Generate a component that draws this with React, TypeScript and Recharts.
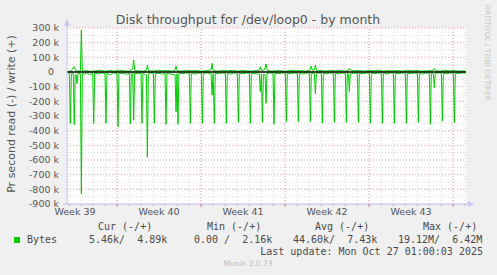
import React from 'react';
import { ComposedChart, Line, XAxis, YAxis, ReferenceLine, ReferenceArea } from 'recharts';

// time axis in days, 0 = midnight of the first full day shown
const X_MIN = -1 / 6;
const X_MAX = 33.08;

const weekCenters = [0.5, 7.5, 14.5, 21.5, 28.5];
const weekLabels = ['Week 39', 'Week 40', 'Week 41', 'Week 42', 'Week 43'];
const weekStarts = [4, 11, 18, 25, 32];

const yTicks = [300, 200, 100, 0, -100, -200, -300, -400, -500, -600, -700, -800, -900];
const yHalfTicks = [250, 150, 50, -50, -150, -250, -350, -450, -550, -650, -750, -850];

// read (bytes/s, k) - drawn below zero
const readT = [
  -0.1, 0.03, 0.11, 0.2, 0.36, 0.44, 0.52, 0.6, 0.67, 0.75, 0.95, 1.03, 1.11,
  1.3, 1.5, 1.7, 1.98, 2.06, 2.14,
  2.4, 2.7, 3.0, 3.08, 3.16,
  3.4, 3.7, 4.0, 4.08, 4.16,
  4.5, 4.8, 5.03, 5.11, 5.19, 5.31, 5.39, 5.47,
  5.7, 6.0, 6.08, 6.16, 6.3, 6.45, 6.53, 6.61,
  6.8, 7.03, 7.11, 7.19,
  7.5, 7.8, 8.0, 8.08, 8.16, 8.5, 8.84, 8.92, 9.0, 9.08, 9.16,
  9.5, 9.8, 10.03, 10.11, 10.19,
  10.5, 10.8, 11.03, 11.11, 11.19,
  11.5, 11.84, 11.92, 12.01, 12.11, 12.19,
  12.5, 12.8, 13.03, 13.11, 13.19,
  13.5, 13.8, 14.03, 14.11, 14.19,
  14.5, 14.8, 15.03, 15.11, 15.19,
  15.5, 15.86, 15.94, 16.03, 16.11, 16.2, 16.34, 16.42, 16.5,
  16.8, 17.0, 17.08, 17.16,
  17.5, 17.8, 18.03, 18.11, 18.19,
  18.5, 18.8, 19.03, 19.11, 19.19,
  19.5, 19.8, 20.03, 20.11, 20.19, 20.45, 20.53, 20.61,
  20.8, 21.03, 21.11, 21.19,
  21.5, 21.8, 22.03, 22.11, 22.19,
  22.5, 22.8, 23.03, 23.11, 23.19, 23.28, 23.36, 23.44,
  23.7, 24.03, 24.11, 24.19,
  24.5, 24.8, 25.03, 25.11, 25.19,
  25.5, 25.8, 26.03, 26.11, 26.19,
  26.5, 26.8, 27.03, 27.11, 27.19,
  27.5, 27.8, 28.03, 28.11, 28.19,
  28.5, 28.8, 29.03, 29.11, 29.19,
  29.5, 29.8, 30.03, 30.11, 30.19, 30.36, 30.44, 30.52,
  30.8, 31.03, 31.11, 31.19,
  31.5, 31.8, 32.03, 32.11, 32.19,
  32.5, 32.8, 33.0,
];
const readK = [
  6, 8, 350, 10, 12, 360, 14, 20, 80, 10, 12, 832, 8,
  15, 5, 18, 10, 350, 8,
  14, 6, 10, 350, 8,
  20, 5, 12, 373, 6,
  10, 15, 8, 355, 10, 12, 327, 8,
  12, 6, 350, 10, 14, 20, 582, 10,
  6, 10, 350, 12,
  8, 16, 6, 357, 10, 14, 20, 270, 12, 357, 8,
  12, 6, 10, 350, 8,
  14, 8, 6, 350, 10,
  6, 12, 157, 10, 350, 8,
  12, 6, 10, 350, 8,
  14, 6, 10, 343, 8,
  12, 6, 10, 350, 8,
  12, 14, 134, 12, 343, 14, 18, 214, 10,
  6, 10, 357, 8,
  12, 6, 10, 339, 8,
  12, 6, 10, 339, 8,
  14, 6, 10, 339, 8, 12, 148, 10,
  6, 10, 350, 8,
  12, 6, 10, 343, 8,
  14, 6, 10, 343, 8, 12, 134, 14,
  8, 10, 343, 8,
  12, 6, 10, 350, 8,
  12, 6, 10, 350, 8,
  14, 6, 10, 350, 8,
  12, 6, 10, 350, 8,
  12, 6, 10, 343, 8,
  14, 6, 10, 357, 8, 14, 107, 12,
  6, 10, 336, 8,
  12, 6, 10, 343, 8,
  10, 6, 8,
];

// write (bytes/s, k) - drawn above zero
const writeT = [
  -0.1, 0.2, 0.33, 0.44, 0.55, 0.75, 0.95, 1.03, 1.11,
  1.4, 1.8, 2.2, 2.6, 3.0, 3.4, 3.8, 4.2, 4.6, 5.0,
  5.3, 5.39, 5.48, 5.8, 6.2, 6.45, 6.53, 6.61,
  7.0, 7.4, 7.8, 8.2, 8.6, 8.84, 8.92, 9.0,
  9.4, 9.8, 10.2, 10.6, 11.0, 11.4, 11.84, 11.92, 12.0,
  12.4, 12.8, 13.2, 13.6, 14.0, 14.4, 14.8, 15.2, 15.6,
  15.86, 15.94, 16.03, 16.3, 16.42, 16.52,
  16.9, 17.3, 17.7, 18.1, 18.5, 18.9, 19.3, 19.7,
  20.08, 20.17, 20.3, 20.45, 20.53, 20.62,
  21.0, 21.4, 21.8, 22.2, 22.6, 23.0,
  23.28, 23.36, 23.45,
  23.8, 24.2, 24.6, 25.0, 25.4, 25.8, 26.2, 26.6, 27.0, 27.4, 27.8, 28.2, 28.6, 29.0, 29.4, 29.8, 30.2,
  30.36, 30.44, 30.52,
  30.9, 31.3, 31.7, 32.1, 32.5, 33.0,
];
const writeK = [
  4, 8, 28, 36, 12, 6, 8, 286, 6,
  10, 4, 8, 12, 5, 10, 6, 12, 8, 6,
  20, 82, 10, 8, 6, 12, 48, 10,
  6, 12, 8, 10, 6, 15, 41, 10,
  6, 12, 8, 10, 6, 8, 15, 59, 10,
  6, 10, 8, 12, 6, 10, 8, 6, 10,
  12, 36, 10, 15, 55, 12,
  6, 10, 8, 6, 12, 8, 10, 6,
  12, 40, 10, 15, 48, 8,
  10, 6, 12, 8, 10, 6,
  10, 25, 15,
  8, 10, 6, 10, 8, 12, 6, 10, 8, 10, 6, 12, 8, 10, 6, 8, 10,
  12, 25, 10,
  6, 12, 8, 10, 6, 8,
];

const readData = readT.map((t, i) => ({ t, v: -readK[i] }));
const writeData = writeT.map((t, i) => ({ t, v: writeK[i] }));

const dayLines = Array.from({ length: 34 }, (_, i) => i);

const GREEN = '#00CC00';
const TXT = '#555555';
const FONT = 'DejaVu Sans, sans-serif';
const MONO = 'DejaVu Sans Mono, monospace';
const NB = '\u00A0';

const YTick = ({ x, y, payload }: any) => (
  <text
    x={payload.value === 0 ? x - 5 : x}
    y={y}
    dy="0.35em"
    textAnchor="end"
    fontSize={9.5}
    fill={TXT}
    fontFamily={FONT}
  >
    {payload.value === 0 ? '0' : `${payload.value} k`}
  </text>
);

export default function App() {
  return (
    <div style={{ position: 'absolute', left: 0, top: 0, width: 497, height: 275, background: '#F0F0F0' }}>
      <ComposedChart width={497} height={275} margin={{ top: 28, right: 31, bottom: 51, left: 0 }}>
        <XAxis
          xAxisId="t"
          type="number"
          dataKey="t"
          domain={[X_MIN, X_MAX]}
          allowDataOverflow
          ticks={weekCenters}
          interval={0}
          tickFormatter={(v: number) => weekLabels[weekCenters.indexOf(v)]}
          axisLine={false}
          tickLine={false}
          tickSize={0}
          tickMargin={4}
          height={20}
          tick={{ fontSize: 9.5, fill: TXT, fontFamily: FONT }}
        />
        <YAxis
          type="number"
          domain={[-900, 300]}
          allowDataOverflow
          ticks={yTicks}
          interval={0}
          width={67}
          axisLine={false}
          tickLine={false}
          tick={<YTick />}
        />
        <ReferenceArea xAxisId="t" x1={X_MIN} x2={X_MAX} y1={-900} y2={300} fill="#FFFFFF" fillOpacity={1} stroke="none" />
        {dayLines.map((d) => (
          <ReferenceLine key={'d' + d} xAxisId="t" x={d} stroke="#D4D4D4" strokeDasharray="1 2" />
        ))}
        {yHalfTicks.map((v) => (
          <ReferenceLine key={'h' + v} xAxisId="t" y={v} stroke="#D4D4D4" strokeDasharray="1 2" />
        ))}
        {yTicks.map((v) => (
          <ReferenceLine key={'y' + v} xAxisId="t" y={v} stroke="#EBA0A0" strokeDasharray="1 2" />
        ))}
        {weekStarts.map((d) => (
          <ReferenceLine key={'w' + d} xAxisId="t" x={d} stroke="#EBA0A0" strokeDasharray="1 2" />
        ))}
        {dayLines.map((d) => (
          <ReferenceLine
            key={'dt' + d}
            xAxisId="t"
            ifOverflow="visible"
            segment={[{ x: d, y: -900 }, { x: d, y: -913 }]}
            stroke="#BBBBBB"
          />
        ))}
        {weekStarts.map((d) => (
          <ReferenceLine
            key={'wt' + d}
            xAxisId="t"
            ifOverflow="visible"
            segment={[{ x: d, y: -900 }, { x: d, y: -920 }]}
            stroke="#E07070"
          />
        ))}
        <Line xAxisId="t" data={readData} dataKey="v" type="linear" stroke={GREEN} strokeWidth={1} dot={false} isAnimationActive={false} />
        <Line xAxisId="t" data={writeData} dataKey="v" type="linear" stroke={GREEN} strokeWidth={1} dot={false} isAnimationActive={false} />
        <ReferenceLine xAxisId="t" y={0} stroke="#000000" strokeWidth={1.6} />
      </ComposedChart>

      <svg width={497} height={275} style={{ position: 'absolute', left: 0, top: 0, pointerEvents: 'none' }}>
        {/* axes with arrows */}
        <line x1={67} y1={23} x2={67} y2={205} stroke="#C8C8F0" strokeWidth={1} />
        <polygon points="64,26 70,26 67,19" fill="#C8C8F0" />
        <line x1={63} y1={204} x2={469} y2={204} stroke="#C8C8F0" strokeWidth={1} />
        <polygon points="468,201 468,207 474,204" fill="#C8C8F0" />

        <text x={248} y={24} textAnchor="middle" fontSize={12.5} fill={TXT} fontFamily={FONT}>
          Disk throughput for /dev/loop0 - by month
        </text>
        <text x={15} y={114} transform="rotate(-90 15 114)" textAnchor="middle" fontSize={11} fill={TXT} fontFamily={FONT}>
          Pr second read (-) / write (+)
        </text>
        <text x={485} y={53} transform="rotate(90 485 53)" textAnchor="middle" fontSize={7.5} fill="#C8C8C8" fontFamily={FONT}>
          RRDTOOL / TOBI OETIKER
        </text>

        <g fontFamily={MONO} fontSize={10} fill="#4A4A4A">
          <text x={98} y={230}>Cur (-/+)</text>
          <text x={207} y={230}>Min (-/+)</text>
          <text x={315} y={230}>Avg (-/+)</text>
          <text x={423} y={230}>Max (-/+)</text>
          <rect x={14} y={237} width={6} height={6} fill={GREEN} />
          <text x={27} y={243}>Bytes</text>
          <text x={89} y={243}>{`5.46k/${NB}${NB}4.89k`}</text>
          <text x={194} y={243}>{`0.00${NB}/${NB}${NB}2.16k`}</text>
          <text x={293} y={243}>{`44.60k/${NB}${NB}7.43k`}</text>
          <text x={398} y={243}>{`19.12M/${NB}${NB}6.42M`}</text>
          <text x={483} y={254.5} textAnchor="end">Last update: Mon Oct 27 01:00:03 2025</text>
        </g>
        <text x={248} y={266} textAnchor="middle" fontSize={7.5} fill="#BBBBBB" fontFamily={FONT}>
          Munin 2.0.73
        </text>
      </svg>
    </div>
  );
}
